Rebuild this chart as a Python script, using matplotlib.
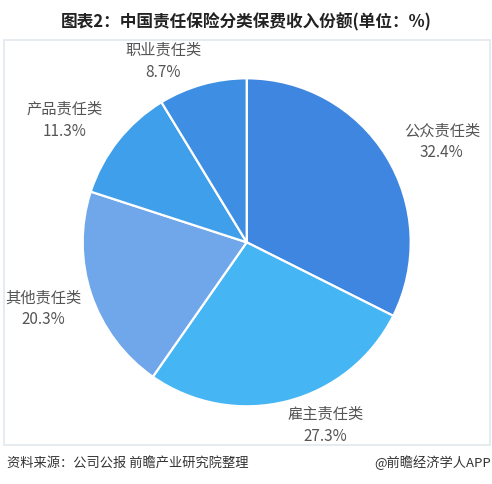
import numpy as np
import matplotlib.pyplot as plt
from matplotlib.patches import Rectangle

plt.rcParams['font.family'] = ['Noto Sans CJK SC', 'DejaVu Sans']

categories = ['公众责任类', '雇主责任类', '其他责任类', '产品责任类', '职业责任类']
shares = [32.4, 27.3, 20.3, 11.3, 8.7]
colors = ['#3f86e0', '#45b5f3', '#70a7ea', '#3f9fea', '#3e8fe4']
# label centre, in units of pie radius, relative to the pie centre
label_pos = [(1.19, 0.62), (0.48, -1.11), (-1.24, -0.40), (-1.11, 0.75), (-0.51, 1.11)]

W, H = 492, 485
cx, cy, R = 246.7, 243.3, 164.0  # pixels from top-left

fig = plt.figure(figsize=(W / 100, H / 100), dpi=100)
ax = fig.add_axes([0, 0, 1, 1])

wedges, _ = ax.pie(shares, colors=colors, startangle=90, counterclock=False,
                   radius=1.0, wedgeprops=dict(edgecolor='white', linewidth=1.6))

ax.set_xlim(-cx / R, (W - cx) / R)
ax.set_ylim(-(H - cy) / R, cy / R)
ax.set_aspect('equal')
ax.axis('off')

for name, v, (x, y) in zip(categories, shares, label_pos):
    ax.text(x, y, '%s\n%.1f%%' % (name, v), ha='center', va='center',
            fontsize=11, color='#555555', linespacing=1.35)

# light frame around the chart area
fig.patches.append(Rectangle((4 / W, 1 - 446 / H), 486 / W, 405 / H,
                             transform=fig.transFigure, fill=False,
                             edgecolor='#e2e7ee', linewidth=1.2))

fig.text(0.5, 1 - 22 / H, '图表2：中国责任保险分类保费收入份额(单位：%)',
         ha='center', va='center', fontsize=12, fontweight='bold', color='#222222')
fig.text(7 / W, 1 - 463 / H, '资料来源：公司公报 前瞻产业研究院整理',
         ha='left', va='center', fontsize=9.5, color='#333333')
fig.text(491 / W, 1 - 463 / H, '@前瞻经济学人APP',
         ha='right', va='center', fontsize=9.5, color='#333333')

fig.savefig('out.png', dpi=100)
